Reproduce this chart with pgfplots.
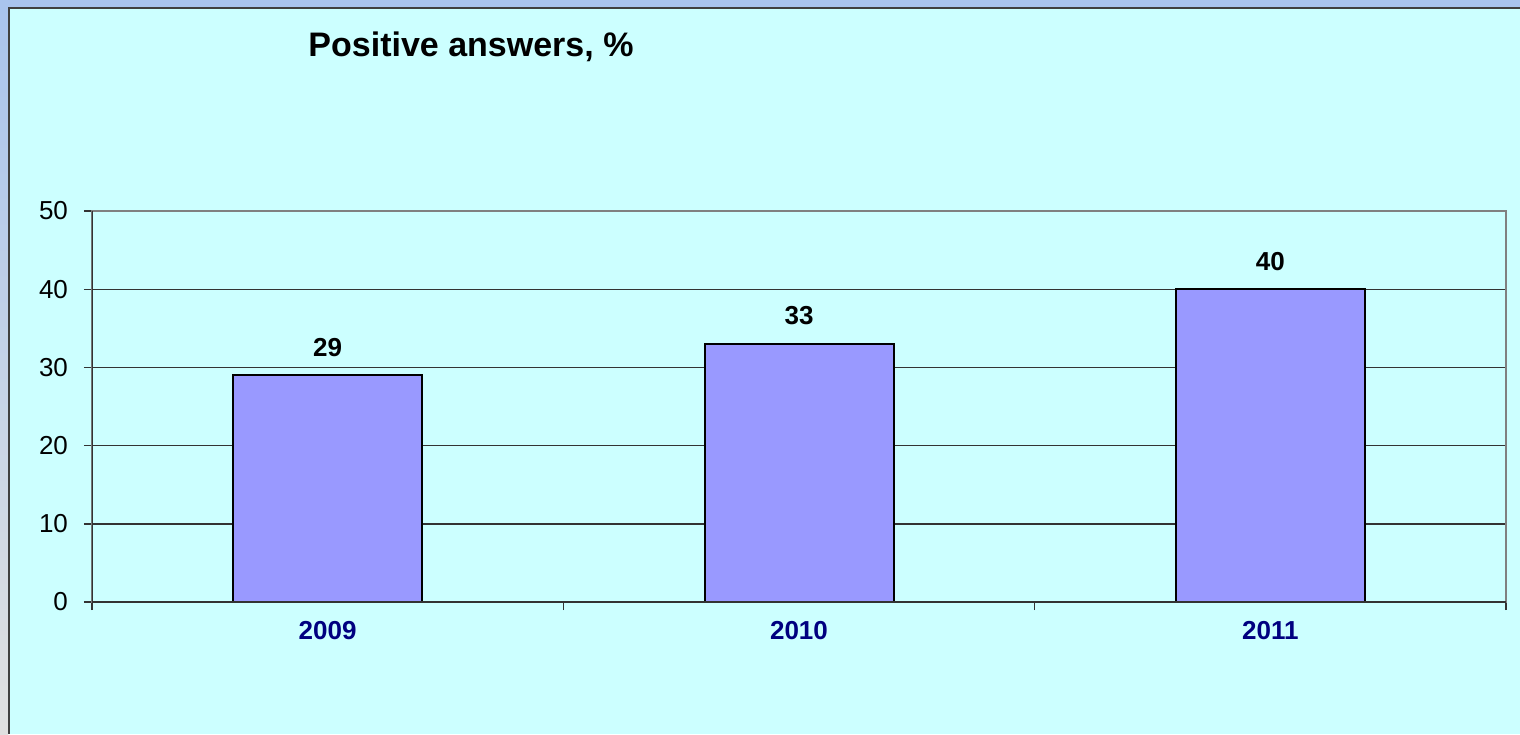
\documentclass[border=0pt]{standalone}
\usepackage{fontspec}
\setmainfont{Liberation Sans}
\usepackage{pgfplots}
\pgfplotsset{compat=1.18}

\definecolor{bgcyan}{HTML}{CCFFFF}
\definecolor{frameblue}{HTML}{A9C4EE}
\definecolor{barblue}{HTML}{9999FF}
\definecolor{labelnavy}{HTML}{000080}
\definecolor{gridgray}{HTML}{333333}

\begin{document}
\begin{tikzpicture}[x=1pt,y=1pt]
% window frame and chart background (1px = 0.5pt)
\useasboundingbox (0,0) rectangle (760,367);
\fill[frameblue] (0,0) rectangle (760,367);
\shade[top color=frameblue, bottom color=black!12] (0,0) rectangle (4,363.5);
\fill[bgcyan] (4,0) rectangle (760,363.5);
\draw[black!75, line width=0.9pt] (4.4,0) -- (4.4,363.1) -- (760,363.1);

\node[font=\bfseries\fontsize{17}{20}\selectfont] at (235.5,343.5) {Positive answers, \%};

\begin{axis}[
    at={(46pt,66pt)}, anchor=south west,
    scale only axis,
    width=707pt, height=195.5pt,
    xmin=-0.5, xmax=2.5,
    ymin=0, ymax=50,
    ytick={0,10,20,30,40,50},
    xtick={-0.5,0.5,1.5,2.5},
    xticklabels={},
    extra x ticks={0,1,2},
    extra x tick labels={2009,2010,2011},
    extra x tick style={major tick length=0pt, grid=none},
    tick align=outside,
    tick pos=left,
    major tick length=4pt,
    tick style={draw=gridgray, line width=0.7pt},
    axis line style={draw=gray, line width=1pt},
    ymajorgrids=true,
    grid style={draw=gridgray, line width=0.7pt},
    /pgf/number format/assume math mode=true,
    ticklabel style={font=\fontsize{13}{15}\selectfont},
    xticklabel style={font=\bfseries\fontsize{13}{15}\selectfont, text=labelnavy, yshift=-6pt},
    yticklabel style={xshift=-4.5pt},
    ybar,
    bar width=94.5pt,
    nodes near coords,
    every node near coord/.append style={font=\bfseries\fontsize{13}{15}\selectfont, text=black, anchor=center, yshift=14pt},
]
\addplot[draw=black, fill=barblue, line width=1pt] coordinates {(0,29) (1,33) (2,40)};
\draw[gridgray, line width=1pt] (rel axis cs:0,1) -- (rel axis cs:0,0) -- (rel axis cs:1,0);
\end{axis}
\end{tikzpicture}
\end{document}
